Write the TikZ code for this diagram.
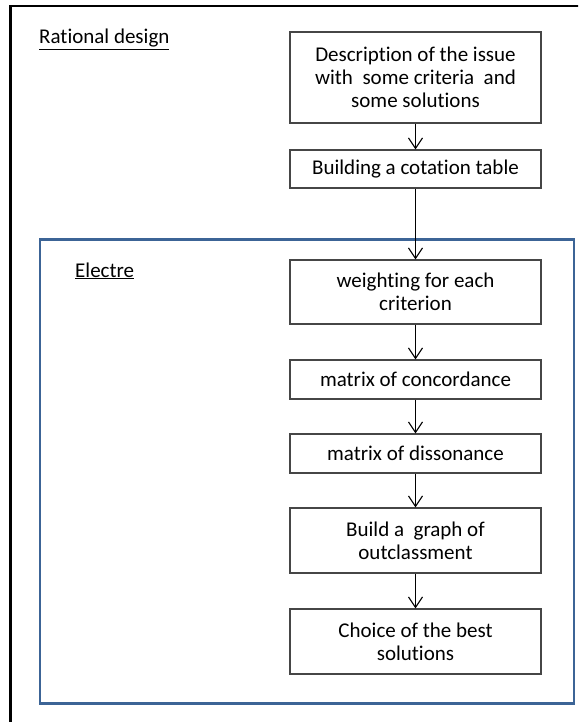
\documentclass[tikz,border=0pt]{standalone}
\usepackage{fontspec}
\setmainfont[Ligatures=NoCommon]{Carlito}
\usetikzlibrary{arrows.meta}
\definecolor{frameblue}{RGB}{60,100,150}
\definecolor{boxgray}{RGB}{70,70,70}
\begin{document}
\begin{tikzpicture}[x=1pt,y=-1pt,
  stepbox/.style={draw=boxgray,line width=1.2pt,minimum width=251pt,align=center,inner sep=0pt,
     font=\fontsize{21}{23}\selectfont},
  flow/.style={line width=1.1pt,-{Straight Barb[length=10.5pt,width=14pt,line width=1.1pt]}},
  title/.style={anchor=base west,inner sep=0pt,font=\fontsize{21}{24}\selectfont}]
\useasboundingbox (0,0) rectangle (578,722);
\begin{scope}
\clip (0,0) rectangle (578,722);
\draw[line width=2.8pt] (10.7,740) -- (10.7,6) -- (600,6);
\end{scope}
\draw[frameblue,line width=2.8pt] (40,239.5) rectangle (574,703.5);
\node[title] (rd) at (39,44) {\underline{Rational design}};
\node[title] (el) at (75,277) {\underline{Electre}};
\node[stepbox,minimum height=91pt] (b1) at (415.5,77.5) {Description of the issue\\with\ \ some criteria\ \ and\\some solutions};
\node[stepbox,minimum height=38pt] (b2) at (415.5,169) {Building a cotation table};
\node[stepbox,minimum height=64pt] (b3) at (415.5,292) {weighting for each\\criterion};
\node[stepbox,minimum height=39pt] (b4) at (415.5,379.5) {matrix of concordance};
\node[stepbox,minimum height=39pt] (b5) at (415.5,453.5) {matrix of dissonance};
\node[stepbox,minimum height=65pt] (b6) at (415.5,540.5) {Build a\ \ graph of\\outclassment};
\node[stepbox,minimum height=65pt] (b7) at (415.5,641.5) {Choice of the best\\solutions};
\draw[flow] (b1) -- (b2);
\draw[flow] (b2) -- (b3);
\draw[flow] (b3) -- (b4);
\draw[flow] (b4) -- (b5);
\draw[flow] (b5) -- (b6);
\draw[flow] (b6) -- (b7);
\end{tikzpicture}
\end{document}
